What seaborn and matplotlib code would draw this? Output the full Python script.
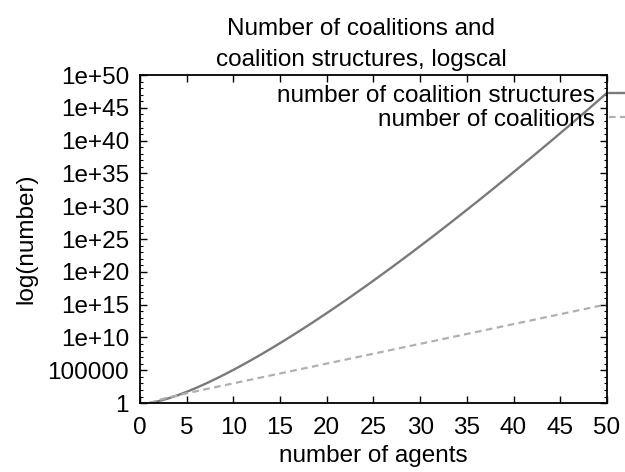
import matplotlib
matplotlib.use('Agg')
import matplotlib.pyplot as plt
import seaborn as sns
import numpy as np
import pandas as pd
from matplotlib.ticker import FixedLocator, FixedFormatter

# number of agents
agents = list(range(1, 51))

# number of coalition structures (Bell numbers), stored as log10 values
structures_log10 = [
    0.000, 0.301, 0.699, 1.176, 1.716, 2.307, 2.943, 3.617, 4.325, 5.064,
    5.832, 6.625, 7.442, 8.281, 9.141, 10.020, 10.918, 11.834, 12.766, 13.714,
    14.677, 15.654, 16.645, 17.649, 18.666, 19.696, 20.737, 21.790, 22.853, 23.928,
    25.013, 26.108, 27.212, 28.327, 29.450, 30.582, 31.721, 32.869, 34.025, 35.197,
    36.367, 37.545, 38.731, 39.925, 41.127, 42.337, 43.555, 44.781, 46.015, 47.269,
]

# number of coalitions (2^n - 1)
coalitions = [
    1, 3, 7, 15, 31, 63, 127, 255, 511, 1023,
    2047, 4095, 8191, 16383, 32767, 65535, 131071, 262143, 524287, 1048575,
    2.097e6, 4.194e6, 8.389e6, 1.678e7, 3.355e7, 6.711e7, 1.342e8, 2.684e8, 5.369e8, 1.074e9,
    2.147e9, 4.295e9, 8.590e9, 1.718e10, 3.436e10, 6.872e10, 1.374e11, 2.749e11, 5.498e11, 1.100e12,
    2.199e12, 4.398e12, 8.796e12, 1.759e13, 3.518e13, 7.037e13, 1.407e14, 2.815e14, 5.630e14, 1.126e15,
]

ytick_exps = list(range(0, 51, 5))
ytick_labels = ['1', '100000'] + ['1e+%d' % e for e in ytick_exps[2:]]
xticks = list(range(0, 51, 5))

sns.set_style('ticks')
plt.rcParams['font.family'] = ['Liberation Sans', 'DejaVu Sans']
plt.rcParams['text.color'] = 'black'
plt.rcParams['axes.labelcolor'] = 'black'
plt.rcParams['xtick.color'] = 'black'
plt.rcParams['ytick.color'] = 'black'

FS = 17.5

df = pd.DataFrame({
    'agents': agents,
    'structures': [10.0 ** v for v in structures_log10],
    'coalitions': coalitions,
})

fig = plt.figure(figsize=(6.25, 4.72), dpi=100)
ax = fig.add_axes([0.224, 0.146, 0.747, 0.695])

sns.lineplot(data=df, x='agents', y='structures', ax=ax, color='#7a7a7a',
             linewidth=1.7, label='number of coalition structures')
sns.lineplot(data=df, x='agents', y='coalitions', ax=ax, color='#b0b0b0',
             linewidth=1.6, dashes=False, label='number of coalitions')
ax.lines[1].set_dashes([3, 2])

ax.set_yscale('log')
ax.set_xlim(0, 50)
ax.set_ylim(1, 1e50)
ax.set_xticks(xticks)
ax.set_xticklabels([str(t) for t in xticks])
ax.yaxis.set_major_locator(FixedLocator([10.0 ** e for e in ytick_exps]))
ax.yaxis.set_major_formatter(FixedFormatter(ytick_labels))
ax.yaxis.set_minor_locator(FixedLocator([10.0 ** e for e in range(51) if e % 5]))
ax.yaxis.set_minor_formatter(FixedFormatter([]))

ax.tick_params(which='both', direction='in', top=True, right=True, labelsize=FS)
ax.tick_params(which='major', length=5, width=1)
ax.tick_params(which='minor', length=2.5, width=0.8)
ax.tick_params(axis='x', pad=10)
ax.tick_params(axis='y', pad=8)
for s in ax.spines.values():
    s.set_linewidth(1.3)
    s.set_color('black')

ax.set_xlabel('number of agents', fontsize=FS, labelpad=4)
ax.set_ylabel('log(number)', fontsize=FS, labelpad=7)

fig.text(0.578, 0.938, 'Number of coalitions and', ha='center', va='center', fontsize=FS)
fig.text(0.578, 0.872, 'coalition structures, logscal', ha='center', va='center', fontsize=FS)

leg = ax.legend(loc='upper right', bbox_to_anchor=(1.06, 0.821),
                bbox_transform=fig.transFigure, frameon=False, markerfirst=False,
                fontsize=FS, handlelength=2.2, handletextpad=0.6,
                labelspacing=0.1, borderpad=0, borderaxespad=0)
leg.set_clip_on(False)

fig.savefig('out.png', dpi=100)
plt.close(fig)
